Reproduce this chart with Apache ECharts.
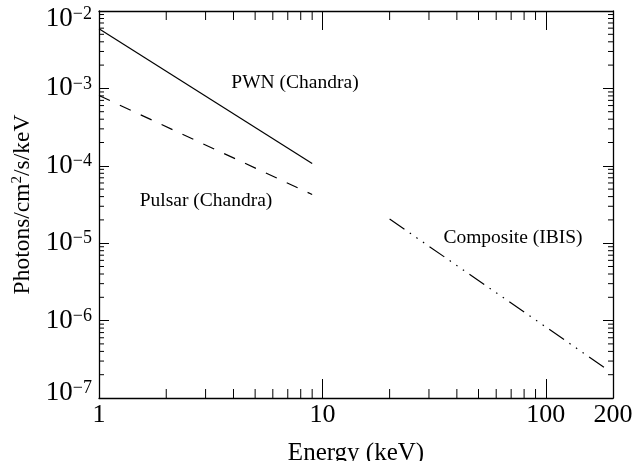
<!DOCTYPE html>
<html>
<head>
<meta charset="utf-8">
<script src="https://cdn.jsdelivr.net/npm/echarts@6/dist/echarts.min.js"></script>
<style>html,body{margin:0;padding:0;background:#fff}#c{width:642px;height:461px}</style>
</head>
<body>
<div id="c"></div>
<script>
// Data
const pwnEnergy = [1, 9];
const pwnFlux = [5.9e-3, 1.07e-4];
const pulsarEnergy = [1, 9];
const pulsarFlux = [8.1e-4, 4.26e-5];
const ibisEnergy = [20, 190];
const ibisFlux = [2.05e-5, 2.3e-7];
const xMinorTicks = [2, 3, 4, 5, 6, 7, 8, 9, 20, 30, 40, 50, 60, 70, 80, 90];
const yMinorTicks = [];
[1e-7, 1e-6, 1e-5, 1e-4, 1e-3].forEach(d => { for (let k = 2; k <= 9; k++) yMinorTicks.push(+(k * d).toPrecision(3)); });
const xRange = [1, 200];
const yRange = [1e-7, 1e-2];
const labels = ['PWN (Chandra)', 'Pulsar (Chandra)', 'Composite (IBIS)'];

const FONT = 'Liberation Serif';
const chart = echarts.init(document.getElementById('c'), null, {renderer: 'canvas'});

function pairs(xs, ys) { return xs.map((x, i) => [x, ys[i]]); }

const axisLine = {show: true, lineStyle: {color: '#000', width: 1.3}};
const xTick = {show: true, inside: true, length: 19, lineStyle: {color: '#000', width: 1}};
const yTick = {show: true, inside: true, length: 10, lineStyle: {color: '#000', width: 1}};

const yMinExp = Math.round(Math.log10(yRange[0]));
const yMaxExp = Math.round(Math.log10(yRange[1]));
const yLabelFmt = v => {
  const e = Math.round(Math.log10(v));
  const t = '{b|10}{s|' + (e < 0 ? '\u2212' + (-e) : e) + '}';
  if (e === yMaxExp) return '{et| }\n' + t;
  if (e === yMinExp) return t + '\n{eb| }';
  return t;
};

const option = {
  animation: false,
  backgroundColor: '#fff',
  grid: {left: 99, right: 29, top: 11, bottom: 63, containLabel: false, outerBoundsMode: 'none'},
  xAxis: [
    {type: 'log', logBase: 10, min: xRange[0], max: xRange[1], position: 'bottom',
     axisLine, axisTick: xTick, splitLine: {show: false}, minorTick: {show: false},
     axisLabel: {color: '#000', fontFamily: FONT, fontSize: 26, margin: 4,
                 formatter: v => String(Math.round(v))},
     name: 'Energy (keV)', nameLocation: 'middle', nameGap: 43,
     nameTextStyle: {color: '#000', fontFamily: FONT, fontSize: 25}},
    {type: 'log', logBase: 10, min: xRange[0], max: xRange[1], position: 'top',
     axisLine, axisTick: xTick, splitLine: {show: false}, axisLabel: {show: false}}
  ],
  yAxis: [
    {type: 'log', logBase: 10, min: yRange[0], max: yRange[1], position: 'left',
     axisLine, axisTick: yTick, splitLine: {show: false},
     axisLabel: {margin: 7, formatter: yLabelFmt,
                 rich: {b: {color: '#000', fontFamily: FONT, fontSize: 27, lineHeight: 27},
                        s: {color: '#000', fontFamily: FONT, fontSize: 18, verticalAlign: 'top', lineHeight: 16},
                        et: {fontSize: 4, lineHeight: 16},
                        eb: {fontSize: 4, lineHeight: 10}}},
     name: '{a|Photons/cm}{s|2}{a|/s/keV}', nameLocation: 'middle', nameGap: 54, nameRotate: 90,
     nameTextStyle: {rich: {a: {color: '#000', fontFamily: FONT, fontSize: 23.5, lineHeight: 26},
                            s: {color: '#000', fontFamily: FONT, fontSize: 15, verticalAlign: 'top', lineHeight: 14}}}},
    {type: 'log', logBase: 10, min: yRange[0], max: yRange[1], position: 'right',
     axisLine, axisTick: yTick, splitLine: {show: false}, axisLabel: {show: false}}
  ],
  series: [
    {type: 'line', data: pairs(pwnEnergy, pwnFlux), symbol: 'none', silent: true,
     lineStyle: {color: '#000', width: 1.2, type: 'solid'}},
    {type: 'line', data: pairs(pulsarEnergy, pulsarFlux), symbol: 'none', silent: true,
     lineStyle: {color: '#000', width: 1.2, type: [12, 11]}},
    {type: 'line', data: pairs(ibisEnergy, ibisFlux), symbol: 'none', silent: true,
     lineStyle: {color: '#000', width: 1.2, type: [18, 6.5, 1.5, 6.5, 1.5, 6.5, 1.5, 6.5]}},
    {type: 'custom', silent: true, clip: false,
     data: xMinorTicks.map(v => [v, yRange[0]]),
     renderItem: (params, api) => {
       const v = api.value(0);
       const b = api.coord([v, yRange[0]]);
       const t = api.coord([v, yRange[1]]);
       const st = {stroke: '#000', lineWidth: 1};
       return {type: 'group', children: [
         {type: 'line', shape: {x1: b[0], y1: b[1], x2: b[0], y2: b[1] - 9}, style: st},
         {type: 'line', shape: {x1: t[0], y1: t[1], x2: t[0], y2: t[1] + 9}, style: st}
       ]};
     }},
    {type: 'custom', silent: true, clip: false,
     data: yMinorTicks.map(v => [xRange[0], v]),
     renderItem: (params, api) => {
       const v = api.value(1);
       const l = api.coord([xRange[0], v]);
       const r = api.coord([xRange[1], v]);
       const st = {stroke: '#000', lineWidth: 1};
       return {type: 'group', children: [
         {type: 'line', shape: {x1: l[0], y1: l[1], x2: l[0] + 5, y2: l[1]}, style: st},
         {type: 'line', shape: {x1: r[0], y1: r[1], x2: r[0] - 5, y2: r[1]}, style: st}
       ]};
     }}
  ],
  graphic: [
    {type: 'text', x: 295, y: 83, style: {text: labels[0], fill: '#000', font: '19.5px "Liberation Serif"', align: 'center', verticalAlign: 'middle'}},
    {type: 'text', x: 206, y: 201, style: {text: labels[1], fill: '#000', font: '19.5px "Liberation Serif"', align: 'center', verticalAlign: 'middle'}},
    {type: 'text', x: 513, y: 238, style: {text: labels[2], fill: '#000', font: '19.5px "Liberation Serif"', align: 'center', verticalAlign: 'middle'}}
  ]
};
chart.setOption(option);
</script>
</body>
</html>
